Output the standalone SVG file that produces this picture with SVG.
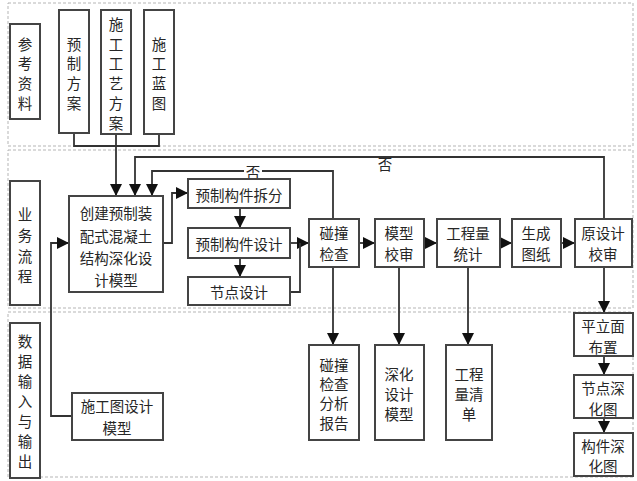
<svg xmlns="http://www.w3.org/2000/svg" width="637" height="481" viewBox="0 0 637 481">
<style>
.lane{fill:none;stroke:#b5b5b5;stroke-width:1;stroke-dasharray:3,2}
.box{fill:#fff;stroke:#444;stroke-width:2}
.t{font-family:"Noto Sans CJK SC","Noto Sans",sans-serif;font-size:14.5px;fill:#262626;text-anchor:middle;dominant-baseline:central}
.ln{fill:none;stroke:#333;stroke-width:1.8}
.ar{fill:none;stroke:#333;stroke-width:1.8;marker-end:url(#ah)}
</style>
<defs>
<marker id="ah" markerUnits="userSpaceOnUse" markerWidth="12" markerHeight="12" refX="10" refY="5" orient="auto" viewBox="0 0 10 10">
<path d="M0,0 L10,5 L0,10 Z" fill="#111"/>
</marker>
</defs>
<rect width="637" height="481" fill="#fff"/>
<g id="lanes">
<rect class="lane" x="8" y="3" width="625" height="143"/>
<rect class="lane" x="8" y="150" width="625" height="158"/>
<rect class="lane" x="8" y="312" width="625" height="165"/>
</g>
<g id="connectors">
<polyline class="ln" points="74,133 74,146 159,146 159,134"/>
<line class="ar" x1="116" y1="134" x2="116" y2="196" stroke-width="2.5"/>
<polyline class="ar" points="604,219 604,157 135,157 135,196"/>
<polyline class="ar" points="333,219 333,171 152,171 152,196"/>
<polyline class="ar" points="163,243 172,243 172,193 188,193"/>
<line class="ar" x1="240" y1="208" x2="240" y2="228"/>
<line class="ar" x1="240" y1="258" x2="240" y2="277"/>
<line class="ar" x1="290" y1="243" x2="309" y2="243"/>
<polyline class="ln" points="290,292 300,292 300,243"/>
<line class="ar" x1="359" y1="243" x2="375" y2="243"/>
<line class="ar" x1="424" y1="243" x2="437" y2="243"/>
<line class="ar" x1="500" y1="243" x2="512" y2="243"/>
<line class="ar" x1="561" y1="243" x2="575" y2="243"/>
<line class="ar" x1="333" y1="267" x2="333" y2="345"/>
<line class="ar" x1="399" y1="267" x2="399" y2="345"/>
<line class="ar" x1="468" y1="267" x2="468" y2="345"/>
<line class="ar" x1="604" y1="267" x2="604" y2="313"/>
<line class="ar" x1="604" y1="356" x2="604" y2="375"/>
<line class="ar" x1="604" y1="418" x2="604" y2="433"/>
<polyline class="ar" points="72,416 51,416 51,243 69,243"/>
<rect x="244" y="163" width="18" height="16" fill="#fff"/>
<text class="t" x="253" y="171">否</text>
<text class="t" x="385" y="163">否</text>
</g>
<g id="lane-ref">
<rect class="box" x="10" y="24" width="30" height="95"/>
<text class="t" x="25" y="43">参</text><text class="t" x="25" y="62">考</text><text class="t" x="25" y="82">资</text><text class="t" x="25" y="102">料</text>
</g>
<g id="lane-biz">
<rect class="box" x="10" y="181" width="30" height="124"/>
<text class="t" x="25" y="213">业</text><text class="t" x="25" y="234">务</text><text class="t" x="25" y="255">流</text><text class="t" x="25" y="275">程</text>
</g>
<g id="lane-data">
<rect class="box" x="10" y="323" width="30" height="155"/>
<text class="t" x="25" y="340">数</text><text class="t" x="25" y="360">据</text><text class="t" x="25" y="380">输</text><text class="t" x="25" y="400">入</text><text class="t" x="25" y="420">与</text><text class="t" x="25" y="440">输</text><text class="t" x="25" y="460">出</text>
</g>
<g id="yuzhi-fangan">
<rect class="box" x="59" y="10" width="30" height="123"/>
<text class="t" x="74" y="43">预</text><text class="t" x="74" y="62">制</text><text class="t" x="74" y="82">方</text><text class="t" x="74" y="102">案</text>
</g>
<g id="gongyi-fangan">
<rect class="box" x="101" y="10" width="30" height="124"/>
<text class="t" x="116" y="23">施</text><text class="t" x="116" y="43">工</text><text class="t" x="116" y="62">工</text><text class="t" x="116" y="82">艺</text><text class="t" x="116" y="102">方</text><text class="t" x="116" y="122">案</text>
</g>
<g id="lantu">
<rect class="box" x="144" y="10" width="30" height="124"/>
<text class="t" x="159" y="43">施</text><text class="t" x="159" y="62">工</text><text class="t" x="159" y="82">蓝</text><text class="t" x="159" y="102">图</text>
</g>
<g id="create-model">
<rect class="box" x="69" y="196" width="94" height="96"/>
<text class="t" x="116" y="212">创建预制装</text><text class="t" x="116" y="235">配式混凝土</text><text class="t" x="116" y="257">结构深化设</text><text class="t" x="116" y="279">计模型</text>
</g>
<g id="chaifen">
<rect class="box" x="188" y="179" width="102" height="29"/>
<text class="t" x="239" y="194">预制构件拆分</text>
</g>
<g id="gouj-sheji">
<rect class="box" x="188" y="228" width="102" height="30"/>
<text class="t" x="239" y="243">预制构件设计</text>
</g>
<g id="jiedian-sheji">
<rect class="box" x="188" y="277" width="102" height="28"/>
<text class="t" x="239" y="291">节点设计</text>
</g>
<g id="pengzhuang">
<rect class="box" x="309" y="219" width="50" height="48"/>
<text class="t" x="334" y="232">碰撞</text><text class="t" x="334" y="253">检查</text>
</g>
<g id="moxing-jiaoshen">
<rect class="box" x="375" y="219" width="49" height="48"/>
<text class="t" x="399" y="232">模型</text><text class="t" x="399" y="253">校审</text>
</g>
<g id="gongchengliang">
<rect class="box" x="437" y="219" width="63" height="48"/>
<text class="t" x="468" y="232">工程量</text><text class="t" x="468" y="253">统计</text>
</g>
<g id="shengcheng">
<rect class="box" x="512" y="219" width="49" height="48"/>
<text class="t" x="536" y="232">生成</text><text class="t" x="536" y="253">图纸</text>
</g>
<g id="yuansheji">
<rect class="box" x="575" y="219" width="57" height="48"/>
<text class="t" x="603" y="232">原设计</text><text class="t" x="603" y="253">校审</text>
</g>
<g id="shigongtu">
<rect class="box" x="72" y="393" width="91" height="47"/>
<text class="t" x="117" y="405">施工图设计</text><text class="t" x="117" y="427">模型</text>
</g>
<g id="pz-report">
<rect class="box" x="309" y="345" width="50" height="95"/>
<text class="t" x="334" y="364">碰撞</text><text class="t" x="334" y="383">检查</text><text class="t" x="334" y="402">分析</text><text class="t" x="334" y="422">报告</text>
</g>
<g id="shenhua-model">
<rect class="box" x="375" y="345" width="49" height="95"/>
<text class="t" x="399" y="373">深化</text><text class="t" x="399" y="393">设计</text><text class="t" x="399" y="413">模型</text>
</g>
<g id="qingdan">
<rect class="box" x="446" y="345" width="46" height="95"/>
<text class="t" x="469" y="373">工程</text><text class="t" x="469" y="393">量清</text><text class="t" x="469" y="413">单</text>
</g>
<g id="pinglimian">
<rect class="box" x="574" y="313" width="59" height="43"/>
<text class="t" x="603" y="325">平立面</text><text class="t" x="603" y="346">布置</text>
</g>
<g id="jiedian-tu">
<rect class="box" x="574" y="375" width="59" height="43"/>
<text class="t" x="603" y="387">节点深</text><text class="t" x="603" y="408">化图</text>
</g>
<g id="goujian-tu">
<rect class="box" x="574" y="433" width="59" height="43"/>
<text class="t" x="603" y="445">构件深</text><text class="t" x="603" y="465">化图</text>
</g>
</svg>
